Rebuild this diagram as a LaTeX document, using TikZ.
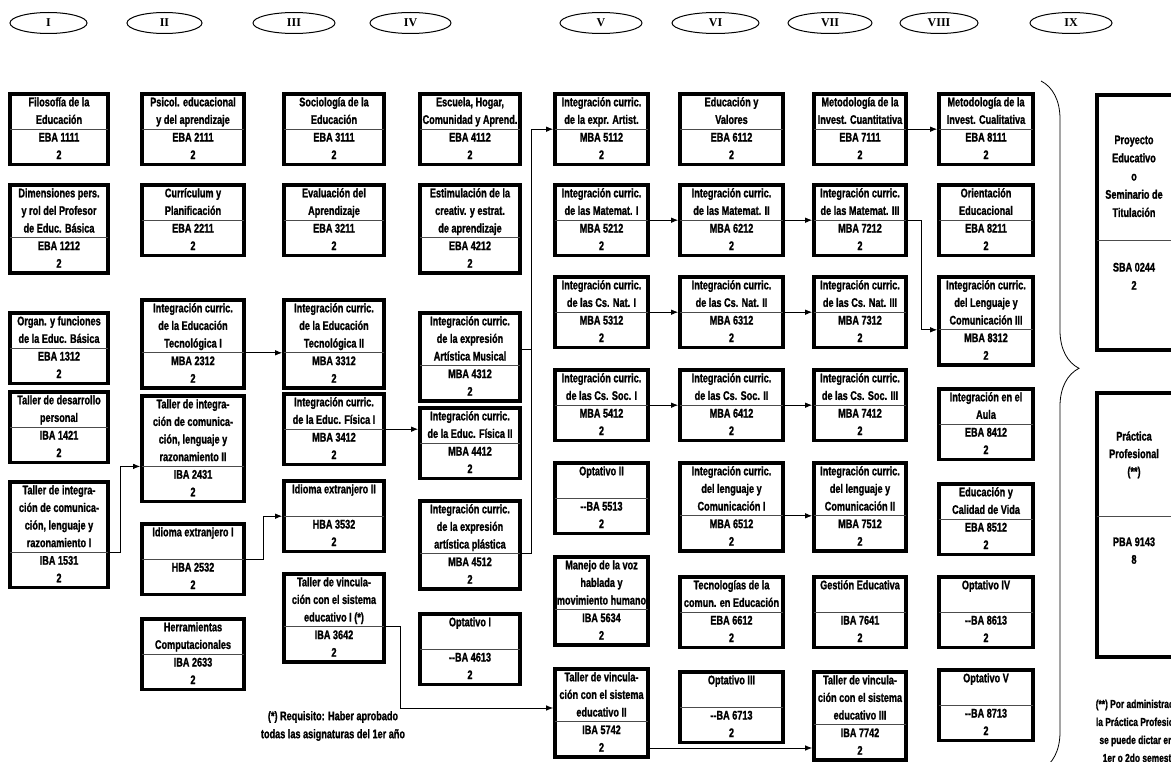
\documentclass[tikz,border=0pt]{standalone}
\usepackage{fontspec}
\usepackage{tikz}
\usetikzlibrary{shapes.multipart,shapes.geometric,arrows.meta,decorations.pathreplacing}
\newfontfamily\boxfont{Liberation Sans Bold}[FakeStretch=0.73,FakeBold=1.2]
\newfontfamily\numfont{Liberation Serif Bold}
\tikzset{
  >={Latex[length=7pt,width=5.5pt]},
}
% title / code / credits of one course box
\newcommand\crs[3]{\strut#1\strut\nodepart{two}\strut#2\\#3\strut}

\begin{document}
\begin{tikzpicture}[
  x=1pt,y=-1pt,
  sem/.style={ellipse, draw, line width=1pt, inner sep=0pt, minimum height=21pt, minimum width=#1, font=\numfont\fontsize{12}{14}\selectfont},
  course/.style={rectangle split, rectangle split parts=2, line width=0pt,
    inner xsep=0pt, inner ysep=0pt, align=center, anchor=north, yshift=-2pt,
    minimum width=#1, font=\boxfont\fontsize{12.5}{17.6}\selectfont},
  frame/.style={line width=3.6pt},
  split/.style={line width=1pt, black!70},
  link/.style={->, line width=0.9pt, shorten >=1.8pt},
  note/.style={align=center, font=\boxfont\fontsize{12.5}{18}\selectfont},
]
\useasboundingbox (0,0) rectangle (1171,762);

% semesters
\node[sem=77] (s1) at (48.5,23) {I};
\node[sem=75] (s2) at (164.5,23) {II};
\node[sem=82] (s3) at (294,23) {III};
\node[sem=81] (s4) at (410.5,23) {IV};
\node[sem=82] (s5) at (601,23) {V};
\node[sem=87] (s6) at (715.5,23) {VI};
\node[sem=84] (s7) at (830,23) {VII};
\node[sem=78] (s8) at (939,23) {VIII};
\node[sem=82] (s9) at (1071,23) {IX};

% semester I
\node[course=98] (c11) at (59,92) {\crs{Filosofía de la\\Educación}{EBA 1111}{2}};
\node[course=98] (c12) at (59,183) {\crs{Dimensiones pers.\\y rol del Profesor\\de Educ. Básica}{EBA 1212}{2}};
\node[course=98] (c13) at (59,311) {\crs{Organ. y funciones\\de la Educ. Básica}{EBA 1312}{2}};
\node[course=98] (c14) at (59,390) {\crs{Taller de desarrollo\\personal}{IBA 1421}{2}};
\node[course=98] (c15) at (59,480) {\crs{Taller de integra-\\ción de comunica-\\ción, lenguaje y\\razonamiento I}{IBA 1531}{2}};

% semester II
\node[course=102] (c21) at (193,92) {\crs{Psicol. educacional\\y del aprendizaje}{EBA 2111}{2}};
\node[course=102] (c22) at (193,183) {\crs{Currículum y\\Planificación}{EBA 2211}{2}};
\node[course=102] (c23) at (193,298) {\crs{Integración curric.\\de la Educación\\Tecnológica I}{MBA 2312}{2}};
\node[course=102] (c24) at (193,394) {\crs{Taller de integra-\\ción de comunica-\\ción, lenguaje y\\razonamiento II}{IBA 2431}{2}};
\node[course=102] (c25) at (193,522) {\crs{Idioma extranjero I\\}{HBA 2532}{2}};
\node[course=102] (c26) at (193,617) {\crs{Herramientas\\Computacionales}{IBA 2633}{2}};

% semester III
\node[course=100] (c31) at (334,92) {\crs{Sociología de la\\Educación}{EBA 3111}{2}};
\node[course=100] (c32) at (334,183) {\crs{Evaluación del\\Aprendizaje}{EBA 3211}{2}};
\node[course=100] (c33) at (334,298) {\crs{Integración curric.\\de la Educación\\Tecnológica II}{MBA 3312}{2}};
\node[course=100] (c34) at (334,392) {\crs{Integración curric.\\de la Educ. Física I}{MBA 3412}{2}};
\node[course=100] (c35) at (334,479) {\crs{Idioma extranjero II\\}{HBA 3532}{2}};
\node[course=100] (c36) at (334,572) {\crs{Taller de vincula-\\ción con el sistema\\educativo I (*)}{IBA 3642}{2}};
\node[note] (n1) at (333,726) {(*) Requisito: Haber aprobado\\todas las asignaturas del 1er año};

% semester IV
\node[course=100] (c41) at (470,92) {\crs{Escuela, Hogar,\\Comunidad y Aprend.}{EBA 4112}{2}};
\node[course=100] (c42) at (470,183) {\crs{Estimulación de la\\creativ. y estrat.\\de aprendizaje}{EBA 4212}{2}};
\node[course=100] (c43) at (470,311) {\crs{Integración curric.\\de la expresión\\Artística Musical}{MBA 4312}{2}};
\node[course=100] (c44) at (470,406) {\crs{Integración curric.\\de la Educ. Física II}{MBA 4412}{2}};
\node[course=100] (c45) at (470,499) {\crs{Integración curric.\\de la expresión\\artística plástica}{MBA 4512}{2}};
\node[course=100] (c46) at (470,612) {\crs{Optativo I\\}{--BA 4613}{2}};

% semester V
\node[course=93] (c51) at (601.5,92) {\crs{Integración curric.\\de la expr. Artist.}{MBA 5112}{2}};
\node[course=93] (c52) at (601.5,183) {\crs{Integración curric.\\de las Matemat. I}{MBA 5212}{2}};
\node[course=93] (c53) at (601.5,275) {\crs{Integración curric.\\de las Cs. Nat. I}{MBA 5312}{2}};
\node[course=93] (c54) at (601.5,368) {\crs{Integración curric.\\de las Cs. Soc. I}{MBA 5412}{2}};
\node[course=93] (c55) at (601.5,461) {\crs{Optativo II\\}{--BA 5513}{2}};
\node[course=93] (c56) at (601.5,555) {\crs{Manejo de la voz\\hablada y\\movimiento humano}{IBA 5634}{2}};
\node[course=93] (c57) at (601.5,667) {\crs{Taller de vincula-\\ción con el sistema\\educativo II}{IBA 5742}{2}};

% semester VI
\node[course=103] (c61) at (731.5,92) {\crs{Educación y\\Valores}{EBA 6112}{2}};
\node[course=103] (c62) at (731.5,183) {\crs{Integración curric.\\de las Matemat. II}{MBA 6212}{2}};
\node[course=103] (c63) at (731.5,275) {\crs{Integración curric.\\de las Cs. Nat. II}{MBA 6312}{2}};
\node[course=103] (c64) at (731.5,368) {\crs{Integración curric.\\de las Cs. Soc. II}{MBA 6412}{2}};
\node[course=103] (c65) at (731.5,461) {\crs{Integración curric.\\del lenguaje y\\Comunicación I}{MBA 6512}{2}};
\node[course=103] (c66) at (731.5,575) {\crs{Tecnologías de la\\comun. en Educación}{EBA 6612}{2}};
\node[course=103] (c67) at (731.5,670) {\crs{Optativo III\\}{--BA 6713}{2}};

% semester VII
\node[course=92] (c71) at (860,92) {\crs{Metodología de la\\Invest. Cuantitativa}{EBA 7111}{2}};
\node[course=92] (c72) at (860,183) {\crs{Integración curric.\\de las Matemat. III}{MBA 7212}{2}};
\node[course=92] (c73) at (860,275) {\crs{Integración curric.\\de las Cs. Nat. III}{MBA 7312}{2}};
\node[course=92] (c74) at (860,368) {\crs{Integración curric.\\de las Cs. Soc. III}{MBA 7412}{2}};
\node[course=92] (c75) at (860,461) {\crs{Integración curric.\\del lenguaje y\\Comunicación II}{MBA 7512}{2}};
\node[course=92] (c76) at (860,575) {\crs{Gestión Educativa\\}{IBA 7641}{2}};
\node[course=92] (c77) at (860,670) {\crs{Taller de vincula-\\ción con el sistema\\educativo III}{IBA 7742}{2}};

% semester VIII
\node[course=94] (c81) at (986,92) {\crs{Metodología de la\\Invest. Cualitativa}{EBA 8111}{2}};
\node[course=94] (c82) at (986,183) {\crs{Orientación\\Educacional}{EBA 8211}{2}};
\node[course=94] (c83) at (986,275) {\crs{Integración curric.\\del Lenguaje y\\Comunicación III}{MBA 8312}{2}};
\node[course=94] (c84) at (986,387) {\crs{Integración en el\\Aula}{EBA 8412}{2}};
\node[course=94] (c85) at (986,482) {\crs{Educación y\\Calidad de Vida}{EBA 8512}{2}};
\node[course=94] (c86) at (986,575) {\crs{Optativo IV\\}{--BA 8613}{2}};
\node[course=94] (c87) at (986,668) {\crs{Optativo V\\}{--BA 8713}{2}};

% semester IX, boxes run past the right edge
\node[course=74, font=\boxfont\fontsize{12.5}{18.2}\selectfont] (p91) at (1134,93) {\strut~\\~\\Proyecto\\Educativo\\o\\Seminario de\\Titulación\\~\strut\nodepart{two}\strut~\\SBA 0244\\2\\~\\~\\~\strut};
\node[course=74] (p92) at (1134,391) {\strut~\\~\\Práctica\\Profesional\\(**)\\~\\~\strut\nodepart{two}\strut~\\PBA 9143\\8\\~\\~\\~\\~\\~\strut};
\foreach \p in {p91,p92} {
  \draw[frame] ([xshift=90pt]\p.north east) -- (\p.north west) -- (\p.south west) -- ([xshift=90pt]\p.south east);
  \draw[split] (\p.text split west) -- ([xshift=90pt]\p.text split east);
}
\node[note, anchor=north, font=\boxfont\fontsize{11.5}{18}\selectfont] (n2) at (1141,696) {(**) Por administración\\la Práctica Profesional\\se puede dictar en el\\1er o 2do semestre};

\draw[decorate, decoration={brace, amplitude=38pt, aspect=0.417}, line width=0.8pt] (1041,81) -- (1041,770);

% frames and split lines
\foreach \c in {c11,c12,c13,c14,c15,c21,c22,c23,c24,c25,c26,c31,c32,c33,c34,c35,c36,
  c41,c42,c43,c44,c45,c46,c51,c52,c53,c54,c55,c56,c57,c61,c62,c63,c64,c65,c66,c67,
  c71,c72,c73,c74,c75,c76,c77,c81,c82,c83,c84,c85,c86,c87} {
  \draw[frame] (\c.north west) rectangle (\c.south east);
  \draw[split] (\c.text split west) -- (\c.text split east);
}

% prerequisites
\draw[link] (c15.text split east) -- ++(12,0) |- (c24.text split west);
\draw[link] (c23.text split east) -- (c33.text split west);
\draw[link] (c25.text split east) -- ++(19,0) |- (c35.text split west);
\draw[link] (c34.text split east) -- (c34.text split east -| c44.west);
\draw[link] (c45.text split east) -- ++(11,0) |- (c51.text split west);
\draw[line width=0.9pt] ([yshift=-36pt]c43.north east) -- ++(11,0);
\draw[link] (c36.text split east) -- ++(16,0) |- ([yshift=-39pt]c57.north west);
\coordinate (v7) at ([yshift=9pt]c57.south east);
\draw[link] (v7) -- (v7 -| c77.west);
\draw[link] (c52.text split east) -- (c62.text split west);
\draw[link] (c53.text split east) -- (c63.text split west);
\draw[link] (c54.text split east) -- (c64.text split west);
\draw[link] (c62.text split east) -- (c72.text split west);
\draw[link] (c63.text split east) -- (c73.text split west);
\draw[link] (c64.text split east) -- (c74.text split west);
\draw[link] (c65.text split east) -- (c75.text split west);
\draw[link] (c71.text split east) -- (c81.text split west);
\draw[link] (c72.text split east) -- ++(15,0) |- (c83.text split west);
\end{tikzpicture}
\end{document}
